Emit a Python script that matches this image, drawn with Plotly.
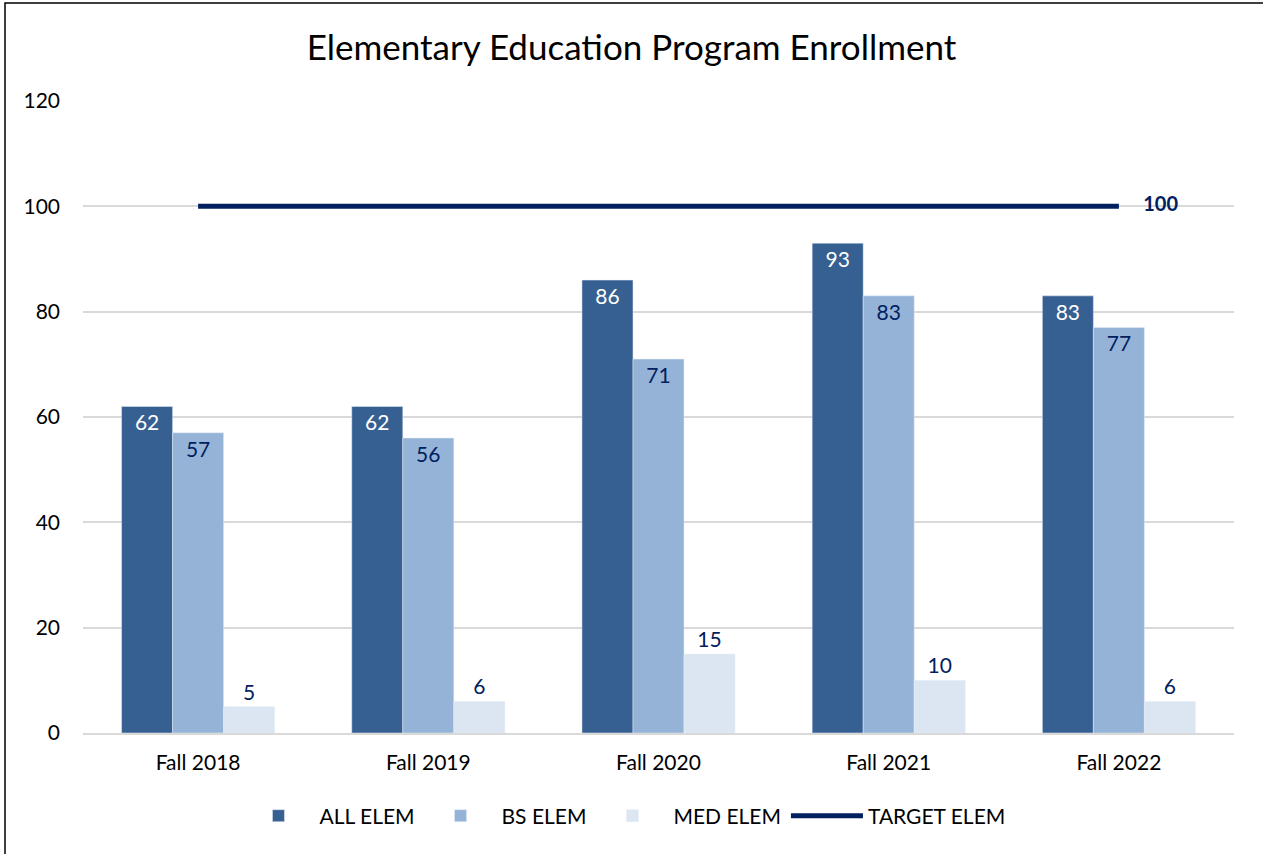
import plotly.graph_objects as go

categories = ["Fall 2018", "Fall 2019", "Fall 2020", "Fall 2021", "Fall 2022"]
all_elem = [62, 62, 86, 93, 83]
bs_elem = [57, 56, 71, 83, 77]
med_elem = [5, 6, 15, 10, 6]
target_elem = [100, 100, 100, 100, 100]

FONT = "Lato, 'Open Sans', sans-serif"
NAVY = "#002060"
FS = 21

fig = go.Figure()
fig.add_trace(go.Bar(
    name="ALL ELEM", x=categories, y=all_elem, marker_color="#376092",
    text=all_elem, textposition="inside", insidetextanchor="end",
    textfont=dict(color="white", size=FS, family=FONT), cliponaxis=False,
))
fig.add_trace(go.Bar(
    name="BS ELEM", x=categories, y=bs_elem, marker_color="#95B3D7",
    text=bs_elem, textposition="inside", insidetextanchor="end",
    textfont=dict(color=NAVY, size=FS, family=FONT), cliponaxis=False,
))
fig.add_trace(go.Bar(
    name="MED ELEM", x=categories, y=med_elem, marker_color="#DCE6F2",
    text=med_elem, textposition="outside",
    textfont=dict(color=NAVY, size=FS, family=FONT), cliponaxis=False,
))
fig.add_trace(go.Scatter(
    name="TARGET ELEM", x=categories, y=target_elem, mode="lines+text",
    line=dict(color=NAVY, width=5),
    text=[""] * (len(target_elem) - 1) + ["     " + str(target_elem[-1])],
    textposition="middle right",
    textfont=dict(color=NAVY, size=20, family=FONT, weight="bold"),
    cliponaxis=False,
))

fig.update_layout(
    width=1263, height=854,
    margin=dict(l=83, r=29, t=101, b=121),
    paper_bgcolor="white", plot_bgcolor="white",
    font=dict(family=FONT, color="#000000", size=FS),
    title=dict(text="Elementary Education Program Enrollment", x=0.5, xanchor="center",
               y=1 - 48 / 854, yanchor="middle", font=dict(size=35, family=FONT, color="#000000")),
    barmode="group", bargap=0.335, bargroupgap=0,
    legend=dict(orientation="h", x=0.47, xanchor="center", y=(733 - 816) / 632, yanchor="middle",
                font=dict(size=FS, family=FONT, color="#000000"), itemwidth=72,
                traceorder="normal"),
)
fig.update_xaxes(showgrid=False, showline=True, linecolor="#D9D9D9", linewidth=1.5,
                 ticks="", tickfont=dict(size=FS), ticklabelstandoff=10)
fig.update_yaxes(range=[0, 120], dtick=20, showgrid=True, gridcolor="#D9D9D9", gridwidth=1.5,
                 zeroline=False, ticks="", tickfont=dict(size=FS), ticklabelstandoff=22,
                 fixedrange=True)

# chart border
fig.add_shape(type="rect", xref="paper", yref="paper",
              x0=(5 - 83) / 1151, x1=1.2, y0=-0.5, y1=1 + (101 - 3) / 632,
              line=dict(color="#000000", width=1.5), fillcolor="rgba(0,0,0,0)", layer="above")

fig.write_html("out.html", config={"displayModeBar": False},
               post_script="document.body.style.margin='0px';")
